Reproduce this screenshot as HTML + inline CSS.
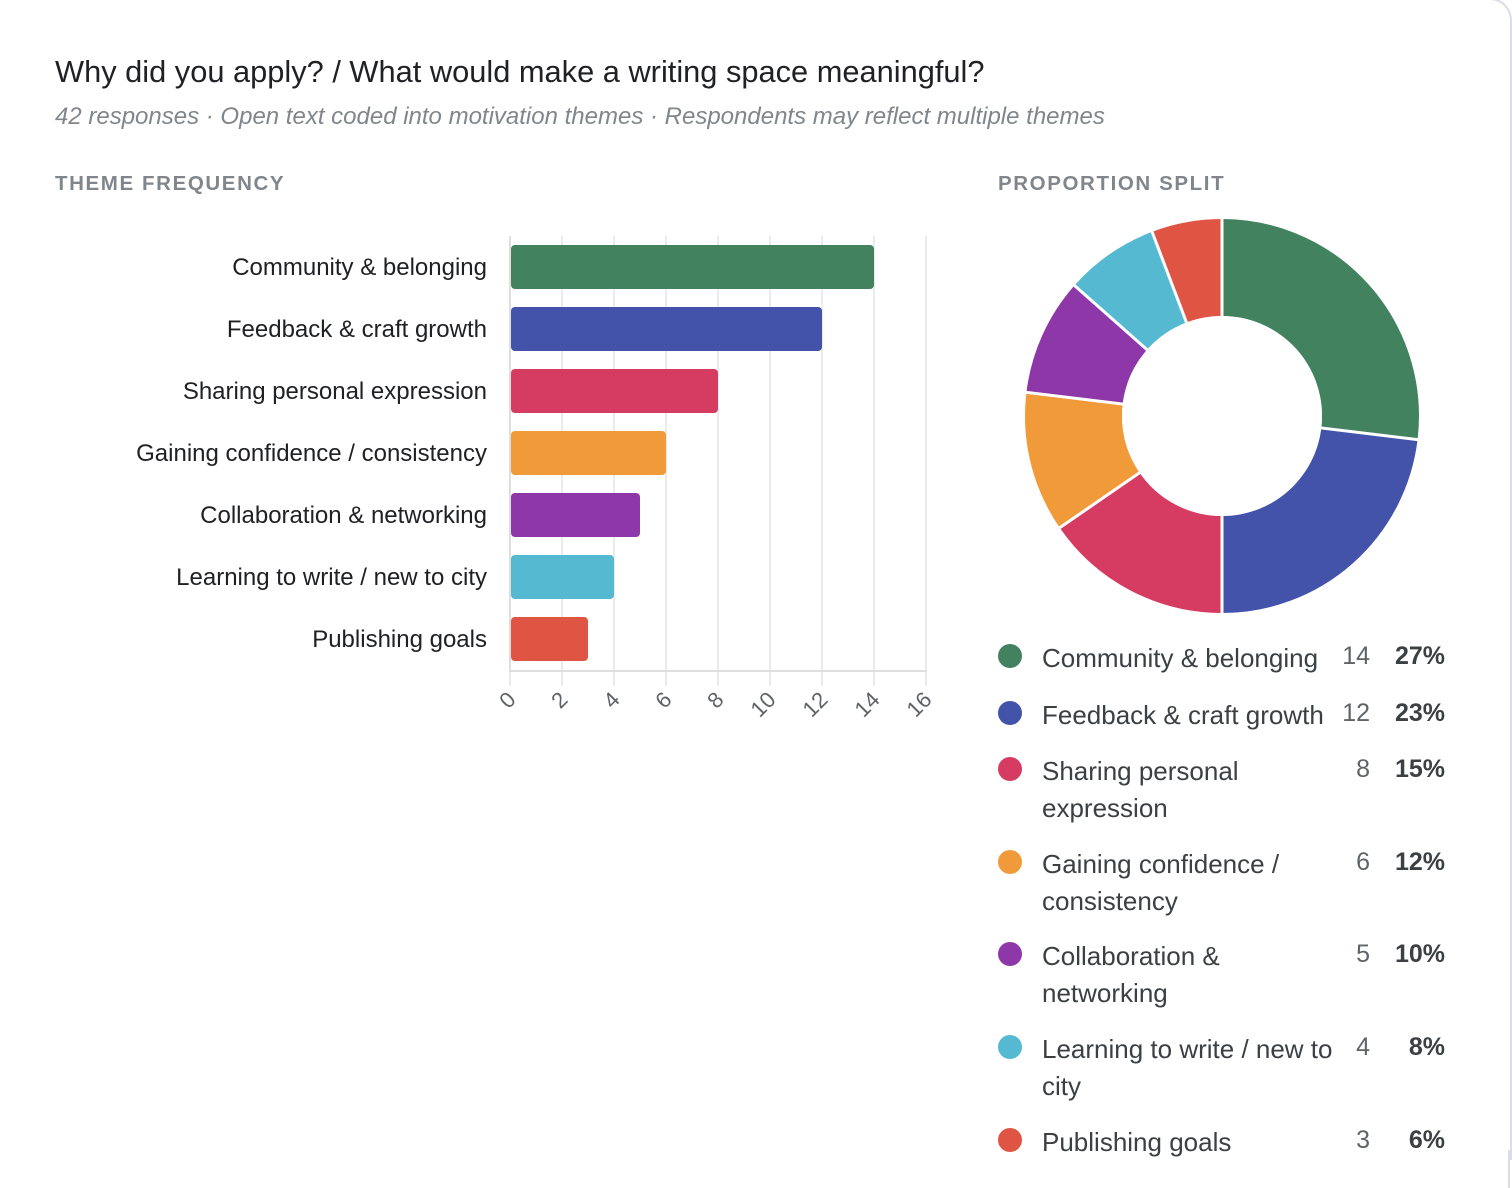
<!DOCTYPE html>
<html><head><meta charset="utf-8"><style>
html,body{margin:0;padding:0;background:#fff;width:1512px;height:1188px;overflow:hidden;}
body{position:relative;font-family:"Liberation Sans",Arial,sans-serif;color:#202124;}
.card{position:absolute;left:-20px;top:-2px;width:1528px;height:1160px;border:2px solid #dcdbe8;border-bottom:none;border-radius:22px 22px 0 0;background:#fff;}
.t{position:absolute;white-space:nowrap;}
</style></head><body>
<div class="card"></div>
<div class="t" style="left:55px;top:54px;font-size:30.8px;color:#202124;">Why did you apply? / What would make a writing space meaningful?</div>
<div class="t" style="left:55px;top:103px;font-size:24px;font-style:italic;color:#80868b;">42 responses · Open text coded into motivation themes · Respondents may reflect multiple themes</div>
<div class="t" style="left:55px;top:172px;font-size:20.5px;font-weight:bold;letter-spacing:1.6px;color:#80868b;">THEME FREQUENCY</div>
<div class="t" style="left:998px;top:172px;font-size:20.5px;font-weight:bold;letter-spacing:1.6px;color:#80868b;">PROPORTION SPLIT</div>
<svg width="1512" height="1188" style="position:absolute;left:0;top:0" font-family="Liberation Sans, Arial, sans-serif">
<line x1="1509" y1="1150" x2="1509" y2="1188" stroke="#dcdbe8" stroke-width="2"/>
<g stroke="#ebebeb" stroke-width="2">
<line x1="510" y1="236" x2="510" y2="686"/><line x1="562" y1="236" x2="562" y2="686"/><line x1="614" y1="236" x2="614" y2="686"/><line x1="666" y1="236" x2="666" y2="686"/><line x1="718" y1="236" x2="718" y2="686"/><line x1="770" y1="236" x2="770" y2="686"/><line x1="822" y1="236" x2="822" y2="686"/><line x1="874" y1="236" x2="874" y2="686"/><line x1="926" y1="236" x2="926" y2="686"/>
</g>
<line x1="509" y1="671" x2="927" y2="671" stroke="#dedede" stroke-width="2"/>
<line x1="510" y1="236" x2="510" y2="672" stroke="#dedede" stroke-width="2"/>
<rect x="511" y="245" width="363" height="44" rx="4" fill="#43825f"/>
<rect x="511" y="307" width="311" height="44" rx="4" fill="#4353aa"/>
<rect x="511" y="369" width="207" height="44" rx="4" fill="#d63c62"/>
<rect x="511" y="431" width="155" height="44" rx="4" fill="#f19a3a"/>
<rect x="511" y="493" width="129" height="44" rx="4" fill="#8e37a8"/>
<rect x="511" y="555" width="103" height="44" rx="4" fill="#56b9d2"/>
<rect x="511" y="617" width="77" height="44" rx="4" fill="#e05443"/>
<g font-size="24" fill="#202124" text-anchor="end">
<text x="487" y="275">Community &amp; belonging</text>
<text x="487" y="337">Feedback &amp; craft growth</text>
<text x="487" y="399">Sharing personal expression</text>
<text x="487" y="461">Gaining confidence / consistency</text>
<text x="487" y="523">Collaboration &amp; networking</text>
<text x="487" y="585">Learning to write / new to city</text>
<text x="487" y="647">Publishing goals</text>
</g>
<g font-size="22" fill="#5f6368" text-anchor="end">
<text transform="translate(517,701) rotate(-45)">0</text>
<text transform="translate(569,701) rotate(-45)">2</text>
<text transform="translate(621,701) rotate(-45)">4</text>
<text transform="translate(673,701) rotate(-45)">6</text>
<text transform="translate(725,701) rotate(-45)">8</text>
<text transform="translate(777,701) rotate(-45)">10</text>
<text transform="translate(829,701) rotate(-45)">12</text>
<text transform="translate(881,701) rotate(-45)">14</text>
<text transform="translate(933,701) rotate(-45)">16</text>
</g>
<g transform="rotate(-90 1222 416)" fill="none" stroke-width="97">
<circle cx="1222" cy="416" r="148.5" stroke="#43825f" stroke-dasharray="251.2 1000" stroke-dashoffset="0"/>
<circle cx="1222" cy="416" r="148.5" stroke="#4353aa" stroke-dasharray="215.3 1000" stroke-dashoffset="-251.2"/>
<circle cx="1222" cy="416" r="148.5" stroke="#d63c62" stroke-dasharray="143.5 1000" stroke-dashoffset="-466.5"/>
<circle cx="1222" cy="416" r="148.5" stroke="#f19a3a" stroke-dasharray="107.7 1000" stroke-dashoffset="-610"/>
<circle cx="1222" cy="416" r="148.5" stroke="#8e37a8" stroke-dasharray="89.7 1000" stroke-dashoffset="-717.7"/>
<circle cx="1222" cy="416" r="148.5" stroke="#56b9d2" stroke-dasharray="71.8 1000" stroke-dashoffset="-807.4"/>
<circle cx="1222" cy="416" r="148.5" stroke="#e05443" stroke-dasharray="53.9 1000" stroke-dashoffset="-879.2"/>
</g>
<g stroke="#fff" stroke-width="3">
<line x1="1222" y1="416" x2="1222" y2="216"/>
<line x1="1222" y1="416" x2="1420.6" y2="440"/>
<line x1="1222" y1="416" x2="1222" y2="616"/>
<line x1="1222" y1="416" x2="1057.3" y2="529.4"/>
<line x1="1222" y1="416" x2="1023.4" y2="392"/>
<line x1="1222" y1="416" x2="1072.2" y2="283.5"/>
<line x1="1222" y1="416" x2="1151" y2="229"/>
</g>
<circle cx="1222" cy="416" r="100" fill="#fff"/>
<g font-size="26" fill="#3c4043">
<circle cx="1010" cy="656" r="12" fill="#43825f"/><text x="1042" y="667">Community &amp; belonging</text>
<circle cx="1010" cy="713" r="12" fill="#4353aa"/><text x="1042" y="724">Feedback &amp; craft growth</text>
<circle cx="1010" cy="769" r="12" fill="#d63c62"/><text x="1042" y="780">Sharing personal</text><text x="1042" y="817">expression</text>
<circle cx="1010" cy="862" r="12" fill="#f19a3a"/><text x="1042" y="873">Gaining confidence /</text><text x="1042" y="910">consistency</text>
<circle cx="1010" cy="954" r="12" fill="#8e37a8"/><text x="1042" y="965">Collaboration &amp;</text><text x="1042" y="1002">networking</text>
<circle cx="1010" cy="1047" r="12" fill="#56b9d2"/><text x="1042" y="1058">Learning to write / new to</text><text x="1042" y="1095">city</text>
<circle cx="1010" cy="1140" r="12" fill="#e05443"/><text x="1042" y="1151">Publishing goals</text>
</g>
<g font-size="25" fill="#5f6368" text-anchor="end">
<text x="1370" y="664">14</text><text x="1370" y="721">12</text><text x="1370" y="777">8</text><text x="1370" y="870">6</text><text x="1370" y="962">5</text><text x="1370" y="1055">4</text><text x="1370" y="1148">3</text>
</g>
<g font-size="25" font-weight="bold" fill="#3c4043" text-anchor="end">
<text x="1445" y="664">27%</text><text x="1445" y="721">23%</text><text x="1445" y="777">15%</text><text x="1445" y="870">12%</text><text x="1445" y="962">10%</text><text x="1445" y="1055">8%</text><text x="1445" y="1148">6%</text>
</g>
</svg>
</body></html>
